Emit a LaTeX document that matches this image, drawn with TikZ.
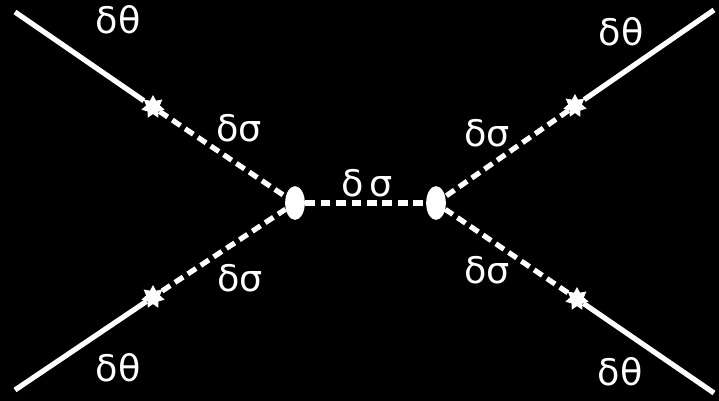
\documentclass[tikz,border=0pt]{standalone}
\usepackage{fontspec}
\setmainfont{DejaVu Sans}
\usetikzlibrary{shapes.geometric}
\begin{document}
\begin{tikzpicture}[x=0.025cm,y=-0.025cm,
        lbl/.style={text=white,font=\fontsize{26}{28}\selectfont,inner sep=0pt},
        vtx/.style={ellipse,fill=white,minimum width=14pt,minimum height=24pt,inner sep=0pt},
        kreuz/.style={star,star points=7,star point ratio=1.7,fill=white,minimum size=17pt,inner sep=0pt},
        voll/.style={white,line width=3.7pt},
        gestr/.style={white,line width=3.7pt,dash pattern=on 7pt off 4pt}]
    \fill[black] (0,0) rectangle (719,401);
    \useasboundingbox (0,0) rectangle (719,401);
    % Ecken:
    \coordinate (eol) at (15,12);
    \coordinate (eul) at (15,390);
    \coordinate (eor) at (714,10);
    \coordinate (eur) at (714,393);
    % Vertices:
    \node[vtx] (vl) at (295,203) {};
    \node[vtx] (vr) at (436,203) {};
    \node[kreuz] (kol) at (153,107) {};
    \node[kreuz] (kul) at (153,297) {};
    \node[kreuz] (kor) at (575,106) {};
    \node[kreuz] (kur) at (577,299) {};
    % Linien:
    \draw[voll] (eol) -- (kol);
    \draw[voll] (eul) -- (kul);
    \draw[voll] (eor) -- (kor);
    \draw[voll] (eur) -- (kur);
    \draw[gestr] (kol) -- (vl);
    \draw[gestr] (kul) -- (vl);
    \draw[gestr] (kor) -- (vr);
    \draw[gestr] (kur) -- (vr);
    \draw[gestr] (vl) -- (vr);
    % Beschriftungen:
    \node[lbl] (tol) at (118,20) {δθ};
    \node[lbl] (tul) at (118,368) {δθ};
    \node[lbl] (tor) at (621,32) {δθ};
    \node[lbl] (tur) at (620,372) {δθ};
    \node[lbl] (sol) at (239,128) {δσ};
    \node[lbl] (sul) at (240,278) {δσ};
    \node[lbl] (sm) at (367,183) {δ\,σ};
    \node[lbl] (sor) at (487,133) {δσ};
    \node[lbl] (sur) at (487,270) {δσ};
\end{tikzpicture}
\end{document}
